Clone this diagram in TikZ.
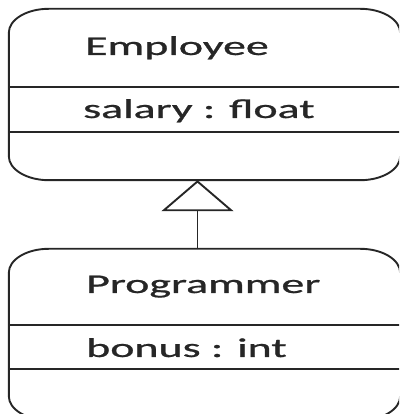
\documentclass[tikz,border=0pt]{standalone}
\usepackage{fontspec}
\newfontfamily\lblfont{Carlito}[UprightFeatures={FakeBold=0.7}]
\usetikzlibrary{arrows.meta,calc}
\tikzset{
  umlframe/.style={rectangle, draw=none, inner sep=0pt, minimum width=391pt, minimum height=171pt},
  outline/.style={draw=black!85, line width=1.9pt},
  label/.style={anchor=base west, inner sep=0pt, font=\lblfont\fontsize{27}{30}\selectfont, text=black!85},
  inherit/.style={outline, -{Triangle[open, length=31pt, width=72pt, line width=1.9pt]}}
}
\newcommand{\ellbox}[1]{%
  \draw[outline] ([yshift=-24pt]#1.north west) -- ([yshift=24pt]#1.south west)
    arc[start angle=180, end angle=270, x radius=40pt, y radius=24pt]
    -- ([xshift=-40pt]#1.south east)
    arc[start angle=270, end angle=360, x radius=40pt, y radius=24pt]
    -- ([yshift=-24pt]#1.north east)
    arc[start angle=0, end angle=90, x radius=40pt, y radius=24pt]
    -- ([xshift=40pt]#1.north west)
    arc[start angle=90, end angle=180, x radius=40pt, y radius=24pt]
    -- cycle;}
\newcommand{\sx}[1]{\scalebox{1.7}[1]{#1}}
\begin{document}
\begin{tikzpicture}[x=1pt, y=1pt]
  \useasboundingbox (0,0) rectangle (399,414);
  \clip (0,0) rectangle (399,414);
  \node[umlframe] (emp) at (204.5,319.5) {};
  \node[umlframe] (prog) at (204.5,79.5) {};
  \ellbox{emp}
  \ellbox{prog}
  % dividers
  \coordinate (e1) at (0,327);
  \coordinate (e2) at (0,282);
  \coordinate (p1) at (0,89);
  \coordinate (p2) at (0,45);
  \draw[outline] (emp.west |- e1) -- (emp.east |- e1);
  \draw[outline] (emp.west |- e2) -- (emp.east |- e2);
  \draw[outline] (prog.west |- p1) -- (prog.east |- p1);
  \draw[outline] (prog.west |- p2) -- (prog.east |- p2);
  % texts
  \node[label] (empname) at (85,359) {\sx{Employee}};
  \node[label] (empattr) at (83,296) {\sx{salary : float}};
  \node[label] (progname) at (86,121) {\sx{Programmer}};
  \node[label] (progattr) at (86,57) {\sx{bonus : int}};
  % generalisation
  \coordinate (ax) at (197.5,0);
  \draw[inherit] (prog.north -| ax) -- (emp.south -| ax);
\end{tikzpicture}
\end{document}
